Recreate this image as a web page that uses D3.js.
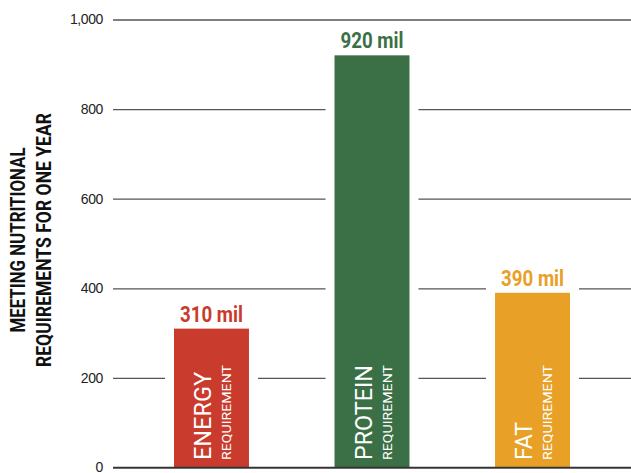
<!DOCTYPE html>
<html>
<head>
<meta charset="utf-8">
<script src="https://cdn.jsdelivr.net/npm/d3@7"></script>
<style>
  body { margin: 0; background: #fff; }
  svg { display: block; font-family: Roboto, "Liberation Sans", sans-serif; }
</style>
</head>
<body>
<div id="chart"></div>
<script>
// data
const categories = ["ENERGY", "PROTEIN", "FAT"];
const values = [310, 920, 390];
const valueLabels = ["310 mil", "920 mil", "390 mil"];
const barColors = ["#c93b2c", "#3b7046", "#e8a026"];
const yTicks = [0, 200, 400, 600, 800, 1000];
const titleLines = ["MEETING NUTRITIONAL", "REQUIREMENTS FOR ONE YEAR"];
const subLabel = "REQUIREMENT";

const width = 631, height = 473;
const svg = d3.select("#chart").append("svg")
    .attr("width", width)
    .attr("height", height);

const x = d3.scaleBand()
    .domain(categories)
    .range([113, 631])
    .paddingInner(0.533)
    .paddingOuter(0.38);

const y = d3.scaleLinear()
    .domain([0, 1000])
    .range([467.5, 19.5]);

// gridlines + tick labels
const yAxis = d3.axisLeft(y)
    .tickValues(yTicks)
    .tickFormat(d3.format(","))
    .tickSize(-(631 - 113))
    .tickPadding(10);

const axisG = svg.append("g")
    .attr("transform", "translate(113,0)")
    .call(yAxis);
axisG.select(".domain").remove();
axisG.selectAll(".tick line")
    .attr("stroke", "#555")
    .attr("stroke-width", 1.3);
axisG.selectAll(".tick text")
    .attr("fill", "#222")
    .style("font-size", "14px")
    .style("letter-spacing", "-0.4px");

const data = categories.map((c, i) => ({cat: c, value: values[i], label: valueLabels[i], color: barColors[i]}));

// white knock-out behind the bars so gridlines break around them
svg.append("g").selectAll("rect")
    .data(data)
  .join("rect")
    .attr("x", d => x(d.cat) - 9)
    .attr("y", d => y(d.value) - 6)
    .attr("width", x.bandwidth() + 18)
    .attr("height", d => y(0) - y(d.value) + 6)
    .attr("fill", "#fff");

svg.append("g").selectAll("rect")
    .data(data)
  .join("rect")
    .attr("x", d => x(d.cat))
    .attr("y", d => y(d.value))
    .attr("width", x.bandwidth())
    .attr("height", d => y(0) - y(d.value))
    .attr("fill", d => d.color);

// baseline
svg.append("line")
    .attr("x1", 113)
    .attr("x2", 631)
    .attr("y1", y(0))
    .attr("y2", y(0))
    .attr("stroke", "#333")
    .attr("stroke-width", 1.5);

// value labels above bars
svg.append("g").selectAll("text")
    .data(data)
  .join("text")
    .attr("x", d => x(d.cat) + x.bandwidth() / 2)
    .attr("y", d => y(d.value) - 7)
    .attr("text-anchor", "middle")
    .attr("fill", d => d.color)
    .attr("font-weight", 700)
    .attr("textLength", 63)
    .attr("lengthAdjust", "spacingAndGlyphs")
    .style("font-size", "22px")
    .text(d => d.label);

// rotated labels inside bars
const nameLengths = {ENERGY: 88, PROTEIN: 95, FAT: 38};
const inner = svg.append("g").selectAll("g")
    .data(data)
  .join("g")
    .attr("transform", d => `translate(${x(d.cat)},${460}) rotate(-90)`);

inner.append("text")
    .attr("x", 0)
    .attr("y", 37)
    .attr("fill", "#fff")
    .attr("textLength", d => nameLengths[d.cat])
    .attr("lengthAdjust", "spacingAndGlyphs")
    .style("font-size", "23px")
    .text(d => d.cat);

inner.append("text")
    .attr("x", 0)
    .attr("y", 57)
    .attr("fill", "#fff")
    .attr("textLength", 95)
    .attr("lengthAdjust", "spacingAndGlyphs")
    .style("font-size", "12.5px")
    .text(subLabel);

// y axis title
const titleLens = [185, 254];
svg.append("g")
    .attr("transform", "translate(0,240) rotate(-90)")
  .selectAll("text")
    .data(titleLines)
  .join("text")
    .attr("x", 0)
    .attr("y", (d, i) => 25 + i * 26)
    .attr("text-anchor", "middle")
    .attr("fill", "#111")
    .attr("font-weight", 700)
    .attr("textLength", (d, i) => titleLens[i])
    .attr("lengthAdjust", "spacingAndGlyphs")
    .style("font-size", "20px")
    .text(d => d);
</script>
</body>
</html>
